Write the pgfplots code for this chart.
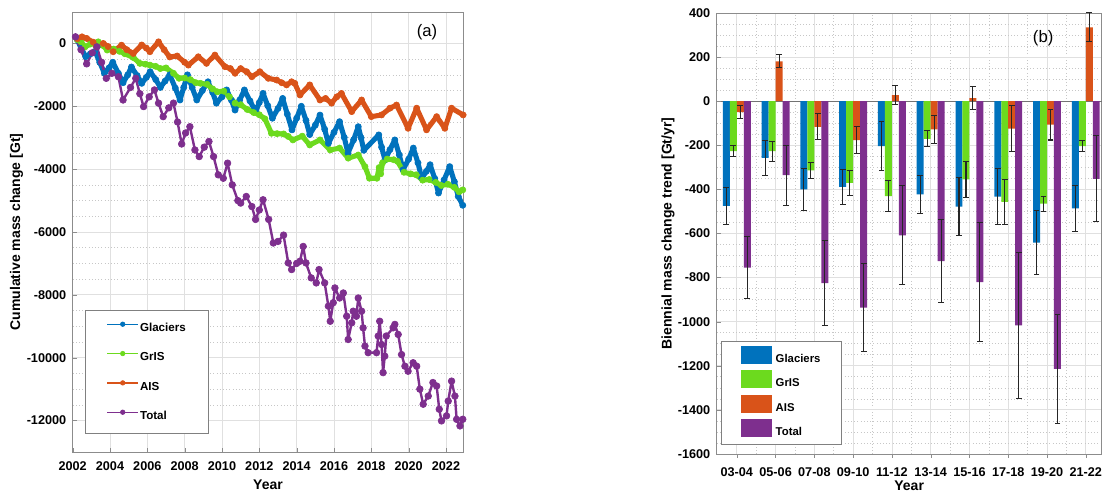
\documentclass[border=0pt]{standalone}
\usepackage{fontspec}
\setmainfont{Liberation Sans}
\usepackage{pgfplots}
\pgfplotsset{compat=1.18}

\definecolor{cGla}{RGB}{0,114,189}
\definecolor{cGrIS}{RGB}{108,218,30}
\definecolor{cAIS}{RGB}{217,83,25}
\definecolor{cTot}{RGB}{126,47,142}

\pgfplotsset{
  matlab/.style={
    scale only axis,
    axis line style={draw=black!45, line width=0.7pt},
    grid=both,
    major grid style={draw=black!12, line width=0.6pt},
    minor grid style={draw=black!22, dotted, line width=0.5pt},
    tick style={draw=black!45},
    major tick length=3pt, minor tick length=0pt,
    tick align=inside,
    xtick pos=bottom, ytick pos=left,
    /pgf/number format/assume math mode=true,
    /pgf/number format/1000 sep={},
    scaled ticks=false,
    ticklabel style={font=\bfseries\fontsize{9.5}{11}\selectfont},
    xticklabel style={yshift=-4pt},
    yticklabel style={xshift=-1.3pt},
    label style={font=\bfseries\fontsize{10.5}{12}\selectfont},
  },
  % dense monthly series drawn as a thick band of dots
  band/.style={color=#1, line width=3.8pt, line join=round, mark=*, mark size=2.3pt,
    mark options={line width=0.5pt}},
}

\begin{document}
\begin{tikzpicture}
\useasboundingbox (0pt,0pt) rectangle (828pt,369pt);

% ---------- (a) cumulative mass change ----------
\begin{axis}[matlab,
  at={(54.5pt,30pt)}, anchor=south west,
  width=293pt, height=330pt,
  xmin=2002, xmax=2022.93, ymin=-13000, ymax=1000,
  xtick={2002,2004,...,2022}, minor x tick num=1,
  ytick={-12000,-10000,...,0}, minor y tick num=3,
  xlabel={Year}, ylabel={Cumulative mass change [Gt]},
  xlabel style={at={(axis description cs:0.5,-0.075)}, anchor=center},
  ylabel style={at={(axis description cs:-0.1434,0.5)}, anchor=center},
  legend style={at={(0.0315,0.041)}, anchor=south west, draw=black!50, line width=0.6pt,
    font=\bfseries\fontsize{8.7}{10}\selectfont, inner xsep=16pt, inner ysep=7.5pt,
    row sep=11pt, nodes={inner sep=1pt, text height=7pt, text depth=2pt}},
  legend cell align=left,
  legend image code/.code={\draw[#1, line width=1pt, mark size=1.7pt, mark repeat=2, mark phase=2]
    plot coordinates {(0pt,3pt) (11.5pt,3pt) (23pt,3pt)};},
]
\addplot[band=cGla] coordinates {
(2002.25,120) (2002.45,-150) (2002.7,-420) (2002.95,-330) (2003.2,-250) (2003.45,-600)
(2003.7,-950) (2003.95,-780) (2004.15,-600) (2004.45,-950) (2004.7,-1250) (2004.95,-1000)
(2005.15,-750) (2005.45,-1020) (2005.7,-1270) (2005.95,-1080) (2006.15,-900) (2006.45,-1150)
(2006.7,-1400) (2006.95,-1200) (2007.2,-1000) (2007.5,-1420) (2007.75,-1800) (2007.95,-1400)
(2008.15,-1000) (2008.4,-1400) (2008.65,-1800) (2008.95,-1500) (2009.25,-1220) (2009.5,-1560)
(2009.7,-1900) (2010.0,-1700) (2010.25,-1480) (2010.5,-1800) (2010.7,-2120) (2010.95,-1800)
(2011.2,-1480) (2011.5,-1830) (2011.8,-2170) (2012.0,-1880) (2012.2,-1590) (2012.45,-1980)
(2012.7,-2380) (2013.0,-2070) (2013.25,-1750) (2013.5,-2250) (2013.75,-2750) (2014.0,-2380)
(2014.25,-2000) (2014.5,-2450) (2014.7,-2900) (2015.0,-2600) (2015.25,-2280) (2015.5,-2730)
(2015.7,-3180) (2016.0,-2830) (2016.3,-2490) (2016.55,-2990) (2016.75,-3490) (2017.05,-3070)
(2017.3,-2650) (2017.45,-3000) (2017.6,-3400) (2018.4,-2910) (2018.55,-3300) (2018.73,-3700)
(2019.0,-3380) (2019.26,-3070) (2019.5,-3550) (2019.7,-4020) (2020.0,-3680) (2020.25,-3330)
(2020.5,-3800) (2020.7,-4290) (2020.95,-4070) (2021.15,-3860) (2021.4,-4300) (2021.6,-4760)
(2021.9,-4340) (2022.2,-3920) (2022.45,-4400) (2022.66,-4870) (2022.9,-5150)
};
\addlegendentry{Glaciers}
\addplot[band=cGrIS] coordinates {
(2002.25,120) (2002.45,50) (2002.66,-110) (2002.95,-20) (2003.37,50) (2003.6,-60)
(2003.85,-210) (2004.2,-180) (2004.5,-250) (2004.8,-330) (2005.25,-450) (2005.6,-635)
(2005.9,-660) (2006.14,-690) (2006.45,-730) (2006.7,-800) (2007.0,-780) (2007.4,-950)
(2007.7,-1110) (2008.0,-1100) (2008.3,-1150) (2008.6,-1250) (2008.85,-1270) (2009.2,-1300)
(2009.5,-1450) (2009.75,-1540) (2010.1,-1520) (2010.4,-1700) (2010.7,-1900) (2011.0,-1950)
(2011.35,-2100) (2011.7,-2200) (2012.0,-2270) (2012.3,-2400) (2012.65,-2860) (2012.95,-2870)
(2013.3,-2880) (2013.55,-2960) (2013.8,-3070) (2014.3,-2950) (2014.7,-3230) (2015.25,-3070)
(2015.8,-3390) (2016.3,-3330) (2016.76,-3650) (2017.3,-3550) (2017.66,-3920) (2017.9,-4290)
(2018.3,-4290) (2018.42,-3950) (2018.5,-4150) (2018.6,-3800) (2018.85,-3680) (2019.2,-3700)
(2019.4,-3750) (2019.75,-4100) (2020.1,-4150) (2020.4,-4180) (2020.75,-4350) (2021.1,-4330)
(2021.45,-4420) (2021.75,-4520) (2022.1,-4480) (2022.45,-4580) (2022.7,-4720) (2022.9,-4660)
};
\addlegendentry{GrIS}
\addplot[band=cAIS] coordinates {
(2002.25,150) (2002.5,210) (2002.75,160) (2003.1,40) (2003.28,-110) (2003.64,0)
(2003.9,-100) (2004.17,-265) (2004.62,-55) (2004.9,-200) (2005.25,-320) (2005.7,-50)
(2005.95,-150) (2006.14,-265) (2006.6,50) (2006.9,-200) (2007.2,-430) (2007.6,-400)
(2008.0,-600) (2008.2,-690) (2008.73,-425) (2009.17,-635) (2009.62,-370) (2010.16,-740)
(2010.45,-800) (2010.7,-950) (2011.0,-800) (2011.32,-900) (2011.6,-1060) (2012.03,-900)
(2012.48,-1110) (2012.93,-1165) (2013.2,-1250) (2013.46,-1320) (2013.73,-1220) (2013.9,-1270)
(2014.18,-1640) (2014.7,-1320) (2015.25,-1800) (2015.55,-1750) (2015.87,-1900) (2016.15,-1700)
(2016.4,-1590) (2016.95,-2170) (2017.48,-1800) (2018.0,-2330) (2018.55,-2275) (2019.0,-2060)
(2019.35,-1960) (2019.97,-2700) (2020.43,-2060) (2020.96,-2750) (2021.5,-2330) (2021.94,-2700)
(2022.3,-2060) (2022.92,-2275)
};
\addlegendentry{AIS}
\addplot[color=cTot, line width=1.8pt, line join=round, mark=*, mark size=2.5pt,
  mark options={line width=0.5pt}] coordinates {
(2002.15,210) (2002.45,-200) (2002.75,-650) (2003.05,-300) (2003.3,-110) (2003.55,-600)
(2003.8,-1110) (2004.1,-950) (2004.45,-1060) (2004.7,-1800) (2005.1,-1400) (2005.38,-1110)
(2005.6,-1600) (2005.8,-2010) (2006.1,-1700) (2006.38,-1480) (2006.6,-1900) (2006.85,-2330)
(2007.15,-2050) (2007.4,-1900) (2007.62,-2500) (2007.84,-3200) (2008.05,-2850) (2008.28,-2650)
(2008.55,-3390) (2008.78,-3600) (2009.05,-3300) (2009.3,-3120) (2009.55,-3600) (2009.8,-4180)
(2010.07,-4290) (2010.3,-3810) (2010.55,-4500) (2010.85,-5000) (2011.0,-5080) (2011.3,-4870)
(2011.6,-5190) (2011.8,-5600) (2012.0,-5300) (2012.2,-4975) (2012.5,-5600) (2012.75,-6350)
(2013.0,-6300) (2013.3,-6100) (2013.55,-6985) (2013.73,-7195) (2014.0,-7000) (2014.18,-6930)
(2014.35,-6460) (2014.5,-6985) (2014.78,-7460) (2015.05,-7620) (2015.2,-7195) (2015.5,-7620)
(2015.7,-8360) (2015.8,-8840) (2015.96,-8250) (2016.05,-7780) (2016.3,-8100) (2016.5,-7940)
(2016.68,-8680) (2016.76,-9420) (2016.95,-8890) (2017.03,-8520) (2017.2,-8680) (2017.3,-8100)
(2017.48,-8520) (2017.56,-9050) (2017.66,-9630) (2017.83,-9840) (2018.28,-9840) (2018.37,-9310)
(2018.45,-8840) (2018.55,-9580) (2018.63,-10475) (2018.72,-9950) (2018.8,-9310) (2019.17,-9050)
(2019.26,-8940) (2019.44,-9260) (2019.62,-9900) (2019.8,-10270) (2019.97,-10430) (2020.24,-10160)
(2020.43,-10270) (2020.6,-11000) (2020.78,-11480) (2021.05,-11220) (2021.3,-10790) (2021.5,-10900)
(2021.64,-11640) (2021.76,-12010) (2022.03,-11850) (2022.12,-11380) (2022.3,-10745) (2022.48,-11220)
(2022.57,-11960) (2022.75,-12170) (2022.9,-11960)
};
\addlegendentry{Total}
\node[font=\fontsize{12.5}{14}\selectfont] at (rel axis cs:0.907,0.955) {(a)};
\end{axis}

% ---------- (b) biennial trends ----------
\begin{axis}[matlab,
  at={(537.5pt,28.5pt)}, anchor=south west,
  width=288.75pt, height=330.75pt,
  ybar=0pt, bar width=0.18,
  xmin=0.48, xmax=10.41, ymin=-1600, ymax=400,
  xtick={1,...,10}, minor x tick num=1,
  xticklabels={03-04,05-06,07-08,09-10,11-12,13-14,15-16,17-18,19-20,21-22},
  ytick={-1600,-1400,...,400}, minor y tick num=3,
  extra y ticks={0}, extra y tick labels={},
  extra y tick style={grid=major, major grid style={draw=black!55, line width=0.6pt}},
  xlabel={Year}, ylabel={Biennial mass change trend [Gt/yr]},
  xlabel style={at={(axis description cs:0.5,-0.0726)}, anchor=center},
  ylabel style={at={(axis description cs:-0.1265,0.5)}, anchor=center},
  legend style={at={(0.0104,0.0204)}, anchor=south west, draw=black!50, line width=0.6pt,
    font=\bfseries\fontsize{8.5}{10}\selectfont, inner xsep=15pt, inner ysep=3.5pt,
    row sep=3pt, nodes={inner sep=1pt, text height=7pt, text depth=2pt}},
  legend cell align=left,
  legend image code/.code={\fill[#1, draw=none] (0pt,-3.6pt) rectangle (23pt,9.9pt);
    \path (25pt,0pt);},
  error bars/y dir=both, error bars/y explicit,
  error bars/error bar style={line width=0.8pt, draw=black!85},
  error bars/error mark options={rotate=90, mark size=2.2pt, line width=0.8pt, draw=black!85},
]
\addplot[fill=cGla, draw=none] coordinates {
(1,-475) +- (0,83) (2,-257) +- (0,80) (3,-400) +- (0,95) (4,-389) +- (0,81) (5,-204) +- (0,110)
(6,-423) +- (0,86) (7,-478) +- (0,130) (8,-433) +- (0,127) (9,-641) +- (0,147) (10,-486) +- (0,104)
};
\addlegendentry{Glaciers}
\addplot[fill=cGrIS, draw=none] coordinates {
(1,-226) +- (0,24) (2,-227) +- (0,45) (3,-314) +- (0,35) (4,-370) +- (0,57) (5,-430) +- (0,72)
(6,-171) +- (0,36) (7,-355) +- (0,83) (8,-457) +- (0,102) (9,-465) +- (0,34) (10,-204) +- (0,25)
};
\addlegendentry{GrIS}
\addplot[fill=cAIS, draw=none] coordinates {
(1,-50) +- (0,30) (2,181) +- (0,30) (3,-116) +- (0,59) (4,-177) +- (0,62) (5,27) +- (0,43)
(6,-128) +- (0,63) (7,14) +- (0,51) (8,-124) +- (0,105) (9,-106) +- (0,70) (10,335) +- (0,66)
};
\addlegendentry{AIS}
\addplot[fill=cTot, draw=none] coordinates {
(1,-755) +- (0,140) (2,-335) +- (0,136) (3,-825) +- (0,192) (4,-936) +- (0,198) (5,-608) +- (0,224)
(6,-725) +- (0,189) (7,-820) +- (0,268) (8,-1017) +- (0,332) (9,-1214) +- (0,247) (10,-352) +- (0,195)
};
\addlegendentry{Total}
\node[font=\fontsize{12.5}{14}\selectfont] at (rel axis cs:0.848,0.943) {(b)};
\end{axis}
\end{tikzpicture}
\end{document}
